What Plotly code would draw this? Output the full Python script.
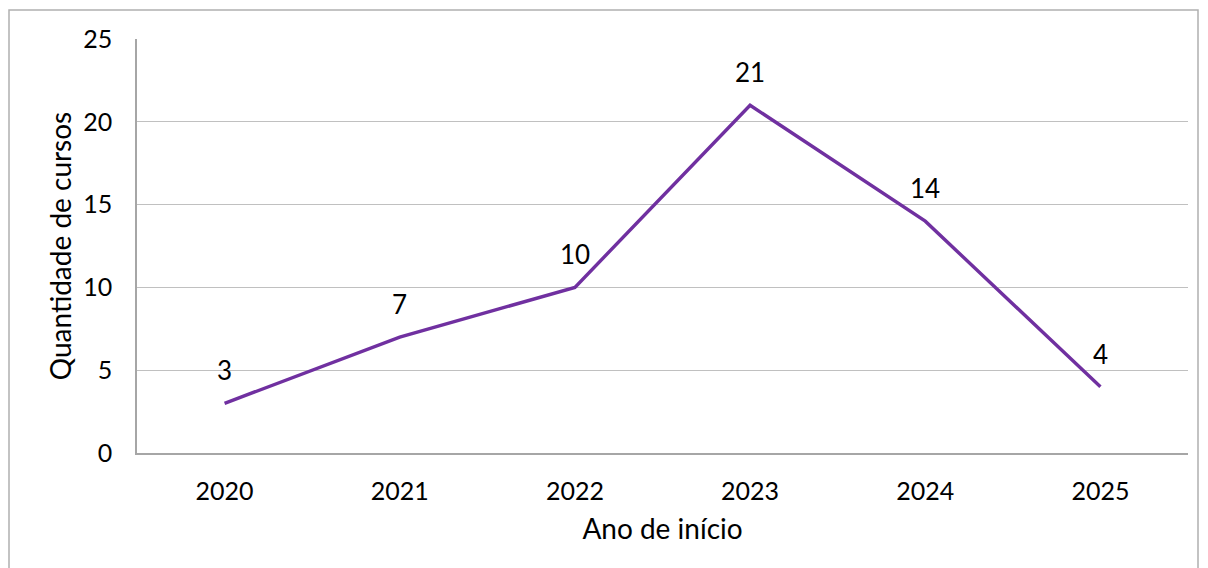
import plotly.graph_objects as go

anos = ["2020", "2021", "2022", "2023", "2024", "2025"]
cursos = [3, 7, 10, 21, 14, 4]

FONT = "Lato, 'Noto Sans', sans-serif"
PURPLE = "#7030A0"

fig = go.Figure()
fig.add_trace(go.Scatter(
    x=anos, y=cursos, mode="lines",
    line=dict(color=PURPLE, width=3.4),
    hoverinfo="x+y", showlegend=False,
))

for i, c in enumerate(cursos):
    fig.add_annotation(x=i, y=c, text=str(c), showarrow=False,
                       yshift=33, font=dict(family=FONT, size=26, color="#000000"))

fig.update_layout(
    width=1208, height=568,
    margin=dict(l=137, r=20, t=39, b=115),
    paper_bgcolor="white", plot_bgcolor="white",
    font=dict(family=FONT, color="#000000"),
    xaxis=dict(
        type="category",
        showgrid=False, showline=True, linecolor="#a6a6a6", linewidth=1.5,
        ticks="", tickfont=dict(size=25, family=FONT),
        ticklabelstandoff=15,
        title=dict(text="Ano de início", font=dict(size=28, family=FONT), standoff=16),
        range=[-0.5, 5.5],
    ),
    yaxis=dict(
        range=[0, 25], dtick=5, tick0=0,
        showgrid=True, gridcolor="#c0c0c0", gridwidth=1,
        showline=True, linecolor="#a6a6a6", linewidth=1.5,
        zeroline=False, ticks="", ticklen=0,
        tickfont=dict(size=25, family=FONT),
        ticklabelstandoff=18,
        title=dict(text="Quantidade de cursos", font=dict(size=28, family=FONT), standoff=3),
    ),
)

# outer chart border (partly outside the visible window)
fig.add_shape(type="rect", xref="paper", yref="paper",
              x0=(9 - 137) / 1051, x1=(1198 - 137) / 1051,
              y0=(453 - 600) / 414, y1=(453 - 10) / 414,
              line=dict(color="#b0b0b0", width=1.5), layer="below")

fig.write_html("out.html", config={"displayModeBar": False})

with open("out.html", "r", encoding="utf-8") as f:
    html = f.read()
html = html.replace("<head>", "<head><style>html,body{margin:0;padding:0;overflow:hidden;}</style>", 1)
with open("out.html", "w", encoding="utf-8") as f:
    f.write(html)
